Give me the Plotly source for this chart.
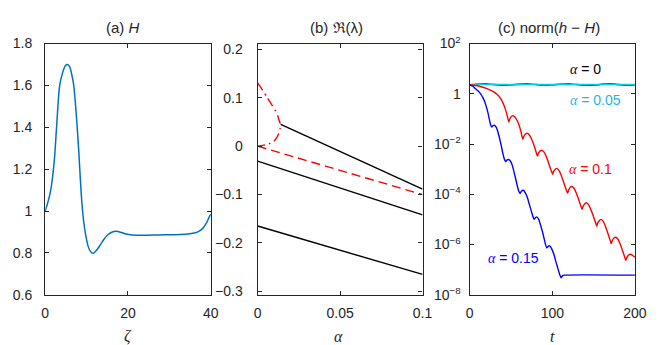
import numpy as np
import plotly.graph_objects as go

W, HT = 664, 345

# ---------------- panel (a): H(zeta) ----------------
zeta = [0, 0.7, 1.4, 2.2, 2.75, 3.5, 4.2, 4.9, 5.4, 5.9, 6.5, 6.9, 7.4, 7.8, 8.1, 8.5,
        8.9, 9.3, 9.7, 10.4, 11.0, 11.6, 12.3, 13.2, 14.2, 15.2, 16.1, 17.1, 18.2, 19.5,
        21, 22.2, 24, 27.3, 30, 32.8, 34.5, 36, 37, 38, 39, 39.5, 40]
H_vals = [1.0, 1.045, 1.107, 1.24, 1.40, 1.60, 1.66, 1.695, 1.70, 1.69, 1.645, 1.60, 1.49,
          1.38, 1.29, 1.15, 1.03, 0.95, 0.895, 0.83, 0.805, 0.798, 0.81, 0.835, 0.865, 0.888,
          0.899, 0.903, 0.899, 0.89, 0.885, 0.884, 0.884, 0.886, 0.887, 0.888, 0.890, 0.895,
          0.902, 0.916, 0.945, 0.966, 0.985]

# ---------------- panel (b): Re(lambda) vs alpha ----------------
alpha_b1 = [0.014, 0.1]
re_b1 = [0.045, -0.0885]
alpha_full = [0, 0.1]
re_b2 = [-0.031, -0.142]
re_b3 = [-0.165, -0.265]
re_red = [0, -0.1]
alpha_branch = [0, 0.003, 0.0057, 0.0085, 0.0106, 0.0122, 0.0132, 0.0137, 0.0138,
                0.0136, 0.0128, 0.0115, 0.0096, 0.0072, 0.0047, 0.002, 0]
re_branch = [0.131, 0.116, 0.101, 0.086, 0.0745, 0.063, 0.0515, 0.047, 0.044,
             0.036, 0.026, 0.017, 0.0095, 0.0055, 0.003, 0.001, 0]

# ---------------- panel (c): norm(h - H) vs t (log10 values) ----------------
t_a0 = [0, 10, 20, 30, 40, 50, 60, 70, 80, 90, 100, 110, 120, 130, 140, 150, 160, 170, 180, 190, 200]
lg_a0 = [0.36, 0.38, 0.39, 0.37, 0.35, 0.36, 0.38, 0.39, 0.37, 0.35, 0.36, 0.38, 0.39, 0.37,
         0.35, 0.345, 0.38, 0.395, 0.37, 0.35, 0.36]
t_a005 = [0, 15, 30, 45, 60, 75, 90, 105, 120, 135, 150, 165, 180, 200]
lg_a005 = [0.36, 0.372, 0.365, 0.372, 0.366, 0.373, 0.366, 0.372, 0.366, 0.372, 0.366,
           0.372, 0.367, 0.37]
t_a01 = [0, 8, 15, 20, 24, 27, 30, 33, 36, 38.5, 40.5, 42.5, 44.5, 46, 47.3, 48.5, 50.5, 52.5,
         55, 57.5, 60, 62, 63.3, 64.3, 65.5, 67.5, 69.7, 72, 74.5, 77, 79, 80.8, 82, 83.2, 85,
         87.3, 90, 92.5, 95, 97, 99, 100.4, 101.7, 103.5, 105.5, 108, 110.5, 113, 115, 117,
         118.5, 119.8, 121.7, 124, 126.5, 129, 131.5, 133.5, 135, 136, 137.3, 139.3, 141.7,
         144, 146.5, 149, 151, 152.7, 153.7, 155, 157, 159.2, 161.7, 164, 166.5, 168.5, 170.2,
         171.3, 172.6, 174.6, 177, 179.5, 182, 184.5, 186.5, 188, 189, 190.3, 192.3, 194.5,
         197, 200]
lg_a01 = [0.36, 0.33, 0.27, 0.22, 0.16, 0.12, 0.06, -0.02, -0.12, -0.25, -0.38, -0.55, -0.76,
          -0.95, -1.12, -1.0, -0.9, -0.87, -0.93, -1.07, -1.27, -1.5, -1.7, -1.81, -1.7, -1.6,
          -1.57, -1.63, -1.77, -1.98, -2.17, -2.37, -2.48, -2.37, -2.28, -2.25, -2.32, -2.48,
          -2.7, -2.9, -3.08, -3.2, -3.08, -3.0, -2.97, -3.05, -3.22, -3.45, -3.65, -3.83,
          -3.95, -3.83, -3.72, -3.69, -3.77, -3.95, -4.17, -4.37, -4.5, -4.6, -4.48, -4.38,
          -4.34, -4.42, -4.6, -4.8, -5.0, -5.16, -5.27, -5.14, -5.04, -5.0, -5.08, -5.25,
          -5.48, -5.68, -5.85, -5.96, -5.84, -5.74, -5.71, -5.79, -5.97, -6.19, -6.39, -6.54,
          -6.63, -6.51, -6.42, -6.39, -6.43, -6.5]
t_a015 = [0, 4, 7, 10, 13, 16, 18, 20, 22, 24, 25.5, 26.8, 28, 29.9, 32, 34, 36, 38, 40, 42,
          43.7, 45, 47.6, 50, 52, 54.3, 56.5, 58.5, 60, 61, 62.5, 65, 67.5, 70, 72, 74, 76, 78,
          79.5, 81, 83.5, 86, 88, 90, 92, 93.3, 95, 96.8, 99, 102, 104.5, 107, 109, 110.7,
          112.5, 114, 200]
lg_a015 = [0.36, 0.30, 0.2, 0.12, 0.01, -0.15, -0.3, -0.5, -0.74, -1.05, -1.25, -1.32, -1.27,
           -1.25, -1.33, -1.5, -1.75, -2.03, -2.35, -2.6, -2.70, -2.64, -2.62, -2.72, -2.9,
           -3.2, -3.5, -3.78, -3.92, -3.97, -3.88, -3.84, -3.95, -4.15, -4.38, -4.6, -4.83,
           -5.0, -4.93, -4.90, -5.0, -5.25, -5.48, -5.75, -6.02, -6.13, -6.07, -6.05, -6.15,
           -6.4, -6.7, -6.98, -7.2, -7.32, -7.24, -7.22, -7.22]

# tick labels
xt_a = [0, 20, 40]
yt_a = [0.6, 0.8, 1.0, 1.2, 1.4, 1.6, 1.8]
yt_a_txt = ["0.6", "0.8", "1", "1.2", "1.4", "1.6", "1.8"]
xt_b = [0, 0.05, 0.1]
xt_b_txt = ["0", "0.05", "0.1"]
yt_b = [-0.3, -0.2, -0.1, 0, 0.1, 0.2]
yt_b_txt = ["\u22120.3", "\u22120.2", "\u22120.1", "0", "0.1", "0.2"]
xt_c = [0, 100, 200]
yt_c = [1e-8, 1e-6, 1e-4, 1e-2, 1, 1e2]
yt_c_txt = ["10<sup>\u22128</sup>", "10<sup>\u22126</sup>", "10<sup>\u22124</sup>",
            "10<sup>\u22122</sup>", "1", "10<sup>2</sup>"]

AX = "#262626"
FONT = "Liberation Sans"
SERIF = "Liberation Serif"

def px(x):
    return x / W

def py(y):
    return 1 - y / HT

fig = go.Figure()

# (a)
fig.add_trace(go.Scatter(x=zeta, y=H_vals, mode="lines", xaxis="x", yaxis="y",
                         line=dict(color="#0072BD", width=1.5, shape="spline", smoothing=0.8)))
# (b)
fig.add_trace(go.Scatter(x=alpha_b1, y=re_b1, mode="lines", xaxis="x2", yaxis="y2",
                         line=dict(color="black", width=1.4)))
fig.add_trace(go.Scatter(x=alpha_full, y=re_b2, mode="lines", xaxis="x2", yaxis="y2",
                         line=dict(color="black", width=1.4)))
fig.add_trace(go.Scatter(x=alpha_full, y=re_b3, mode="lines", xaxis="x2", yaxis="y2",
                         line=dict(color="black", width=1.4)))
fig.add_trace(go.Scatter(x=alpha_full, y=re_red, mode="lines", xaxis="x2", yaxis="y2",
                         line=dict(color="#FF0000", width=1.4, dash="9px,5px")))
fig.add_trace(go.Scatter(x=alpha_branch, y=re_branch, mode="lines", xaxis="x2", yaxis="y2",
                         line=dict(color="#FF0000", width=1.4, dash="9px,4px,2px,4px",
                                   shape="spline", smoothing=0.6)))
# (c)
pw = lambda a: [10 ** v for v in a]
fig.add_trace(go.Scatter(x=t_a0, y=pw(lg_a0), mode="lines", xaxis="x3", yaxis="y3",
                         line=dict(color="black", width=1.4, shape="spline")))
fig.add_trace(go.Scatter(x=t_a005, y=pw(lg_a005), mode="lines", xaxis="x3", yaxis="y3",
                         line=dict(color="#00D2E6", width=1.6, shape="spline")))
fig.add_trace(go.Scatter(x=t_a01, y=pw(lg_a01), mode="lines", xaxis="x3", yaxis="y3",
                         line=dict(color="#FF0000", width=1.4, shape="spline", smoothing=0.5)))
fig.add_trace(go.Scatter(x=t_a015, y=pw(lg_a015), mode="lines", xaxis="x3", yaxis="y3",
                         line=dict(color="#0000FF", width=1.4, shape="spline", smoothing=0.5)))

def axstyle(**kw):
    d = dict(showline=True, linecolor=AX, linewidth=1.3, mirror="ticks", ticks="inside",
             ticklen=4, tickcolor=AX, tickwidth=1, showgrid=False, zeroline=False,
             tickfont=dict(family=FONT, size=14, color=AX), fixedrange=True)
    d.update(kw)
    return d

ydom = [py(292), py(27)]
fig.update_layout(
    width=W, height=HT, margin=dict(l=0, r=0, t=0, b=0),
    paper_bgcolor="white", plot_bgcolor="white", showlegend=False,
    xaxis=axstyle(domain=[px(34), px(203.7)], range=[0, 40], tickvals=xt_a, anchor="y",
                  ticklabelstandoff=5),
    yaxis=axstyle(domain=ydom, range=[0.6, 1.8], tickvals=yt_a, ticktext=yt_a_txt, anchor="x",
                  ticklabelstandoff=9),
    xaxis2=axstyle(domain=[px(251.7), px(420.7)], range=[0, 0.1], tickvals=xt_b,
                   ticktext=xt_b_txt, anchor="y2", ticklabelstandoff=5),
    yaxis2=axstyle(domain=ydom, range=[-0.307, 0.212], tickvals=yt_b, ticktext=yt_b_txt,
                   anchor="x2", ticklabelstandoff=11),
    xaxis3=axstyle(domain=[px(469), px(638.3)], range=[0, 200], tickvals=xt_c, anchor="y3",
                   ticklabelstandoff=5),
    yaxis3=axstyle(domain=ydom, type="log", range=[-8, 2], tickvals=yt_c, ticktext=yt_c_txt,
                   anchor="x3", ticklabelstandoff=5),
)

ann = []
def add_text(x, y, text, size=14, color=AX, family=FONT, xanchor="center"):
    ann.append(dict(x=px(x), y=py(y), xref="paper", yref="paper", text=text, showarrow=False,
                    xanchor=xanchor, yanchor="middle",
                    font=dict(family=family, size=size, color=color)))

add_text(114, 10, "(a) <i>H</i>", size=15)
add_text(332, 10, "(b) \u211c(\u03bb)", size=15)
add_text(550, 10, "(c) norm(<i>h</i> \u2212 <i>H</i>)", size=15)
add_text(118.5, 335, "<i>\u03b6</i>", size=16, family=SERIF)
add_text(335, 336, "<i>\u03b1</i>", size=16, family=SERIF)
add_text(553.5, 336, "<i>t</i>", size=16, family=SERIF)

def alab(val):
    return ("<span style=\"font-family:'Liberation Serif'\"><i>\u03b1</i></span> = " + val)

add_text(570, 53.3, alab("0"), color="#000000", xanchor="left")
add_text(570, 87, alab("0.05"), color="#1EB4EA", xanchor="left")
add_text(568.5, 159.3, alab("0.1"), color="#FF0000", xanchor="left")
add_text(486, 252.7, alab("0.15"), color="#0000FF", xanchor="left")

fig.update_layout(annotations=ann)
fig.write_html("out.html")
